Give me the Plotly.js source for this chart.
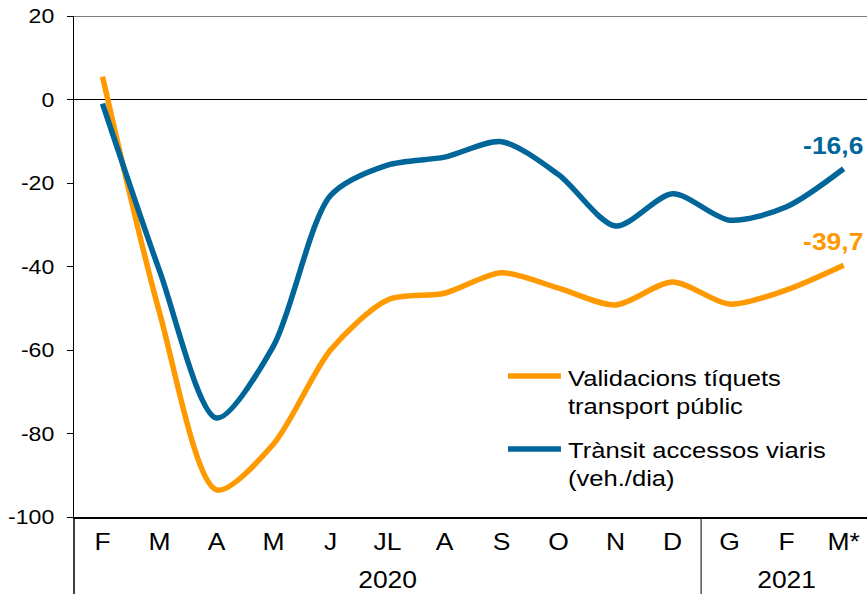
<!DOCTYPE html>
<html>
<head>
<meta charset="utf-8">
<script src="https://cdn.plot.ly/plotly-3.0.1.min.js"></script>
<style>html,body{margin:0;padding:0;background:#fff;}#chart{width:867px;height:594px;}</style>
</head>
<body>
<div id="chart"></div>
<script>
// Categories (months) and years
const months = ["F", "M", "A", "M", "J", "JL", "A", "S", "O", "N", "D", "G", "F", "M*"];
const yearLabels = ["2020", "2021"];
const yearGroupCenters = [5, 12];   // category index at the centre of each year group
const yearBoundary = 10.5;          // between D (2020) and G (2021)

// Y axis ticks
const yTickVals = [-100, -80, -60, -40, -20, 0, 20];
const yTickText = ["-100", "-80", "-60", "-40", "-20", "0", "20"];

// Series values (% change)
const validacions = [5.5, -51, -93.5, -82.5, -60, -48, -46.4, -41.5, -45.2, -49.2, -43.7, -49, -45.6, -39.7];
const transit = [-1, -41, -76.3, -59, -23, -15.7, -13.8, -10.1, -18, -30.3, -22.6, -28.9, -25.7, -16.6];

const seriesNames = ["Validacions tíquets<br>transport públic", "Trànsit accessos viaris<br>(veh./dia)"];
const lastLabels = ["-39,7", "-16,6"];

const orange = "#FF9900";
const blue = "#00669A";
const font = "Liberation Sans, Arial, sans-serif";

const xs = months.map((_, i) => i);
const last = months.length - 1;

const traces = [
  {x: xs, y: validacions, type: "scatter", mode: "lines", name: seriesNames[0],
   line: {color: orange, width: 5.5, shape: "spline", smoothing: 0.8}, showlegend: false, hoverinfo: "y"},
  {x: xs, y: transit, type: "scatter", mode: "lines", name: seriesNames[1],
   line: {color: blue, width: 5.5, shape: "spline", smoothing: 0.8}, showlegend: false, hoverinfo: "y"}
];

const legendY = [0.2814, 0.1357];
const legendTextY = [0.2475, 0.1038];
const colors = [orange, blue];

const shapes = [
  {type: "line", xref: "paper", yref: "y", x0: -0.008, x1: 1, y0: 20, y1: 20, line: {color: "#000", width: 1}},
  {type: "line", xref: "x", yref: "paper", x0: yearBoundary, x1: yearBoundary, y0: 0, y1: -0.16, line: {color: "#000", width: 1}},
  {type: "line", xref: "paper", yref: "paper", x0: 0, x1: 0, y0: 0, y1: -0.16, line: {color: "#000", width: 1.5}}
];
colors.forEach((c, i) => {
  shapes.push({type: "line", xref: "paper", yref: "paper", x0: 0.5473, x1: 0.6141, y0: legendY[i], y1: legendY[i],
    line: {color: c, width: 5.5}});
});

const annotations = [];
seriesNames.forEach((n, i) => {
  annotations.push({xref: "paper", yref: "paper", x: 0.6204, y: legendTextY[i], xanchor: "left", yanchor: "middle",
    text: n, showarrow: false, align: "left", font: {family: font, size: 21.5, color: "#000"}});
});
yearLabels.forEach((t, i) => {
  annotations.push({xref: "x", yref: "paper", x: yearGroupCenters[i], y: -0.1257, xanchor: "center", yanchor: "middle",
    text: t, showarrow: false, font: {family: font, size: 23, color: "#000"}});
});
[validacions, transit].forEach((s, i) => {
  annotations.push({xref: "x", yref: "y", x: last, y: s[last], xanchor: "center", yanchor: "bottom",
    xshift: -11, yshift: 8, text: "<b>" + lastLabels[i] + "</b>", showarrow: false,
    font: {family: font, size: 23, color: colors[i]}});
});

const layout = {
  width: 867, height: 594,
  margin: {l: 74, r: 0, t: 16, b: 77},
  paper_bgcolor: "#fff", plot_bgcolor: "#fff",
  showlegend: false,
  font: {family: font, size: 22, color: "#000"},
  xaxis: {
    range: [-0.5, 13.41], tickmode: "array", tickvals: xs, ticktext: months,
    showgrid: false, zeroline: false, showline: true, linecolor: "#000", linewidth: 1.5,
    ticks: "", ticklabelstandoff: 4, tickfont: {family: font, size: 23, color: "#000"}, fixedrange: true
  },
  yaxis: {
    range: [-100, 20], tickmode: "array", tickvals: yTickVals, ticktext: yTickText,
    showgrid: false, zeroline: true, zerolinecolor: "#000", zerolinewidth: 1.2,
    showline: true, linecolor: "#000", linewidth: 1.5,
    ticks: "outside", ticklen: 6, tickcolor: "#000", tickwidth: 1,
    ticklabelstandoff: 8,
    tickfont: {family: font, size: 21, color: "#000"}, fixedrange: true
  },
  shapes: shapes,
  annotations: annotations
};

// The reference text is slightly wide; stretch text horizontally about its anchor.
function stretchEl(t, s) {
  const x = parseFloat(t.getAttribute("x")) || 0;
  const tr = t.getAttribute("transform") || "";
  t.setAttribute("transform", tr + " translate(" + x + ",0) scale(" + s + ",1) translate(" + (-x) + ",0)");
}

Plotly.newPlot("chart", traces, layout, {displayModeBar: false, staticPlot: true}).then(() => {
  document.querySelectorAll(".xtick text").forEach(t => stretchEl(t, 1.15));
  document.querySelectorAll(".ytick text").forEach(t => stretchEl(t, 1.1));
  document.querySelectorAll(".annotation-text").forEach((t, i) => {
    stretchEl(t, i < seriesNames.length ? 1.19 : 1.15);
  });
});
</script>
</body>
</html>
